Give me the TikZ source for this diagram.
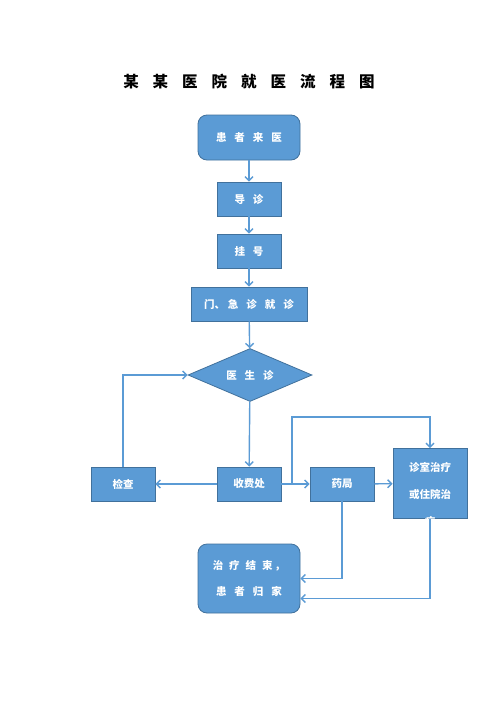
\documentclass[tikz,border=0pt]{standalone}
\usepackage{fontspec}
\setmainfont{Noto Sans CJK SC}
\usetikzlibrary{shapes.geometric,arrows.meta}
\definecolor{boxfill}{HTML}{5B9BD5}
\definecolor{boxline}{HTML}{41719C}
\definecolor{linkc}{HTML}{5B9BD5}
\newcommand\tg{\hspace{8pt}}
\newcommand\ttg{\hspace{14pt}}
\begin{document}
\begin{tikzpicture}[x=1pt,y=-1pt,
 box/.style={draw=boxline, fill=boxfill, line width=0.8pt, text=white, font=\bfseries\fontsize{10.5}{12}\selectfont, inner sep=0pt},
 rbox/.style={box, rounded corners=9pt, align=center},
 link/.style={draw=linkc, line width=1.4pt, -{Straight Barb[length=4pt,width=8pt]}}]
\fill[white] (0,0) rectangle (500,707);
\useasboundingbox (0,0) rectangle (500,707);
\node[font=\bfseries\fontsize{15.5}{18}\selectfont] (t) at (249,82) {某\ttg 某\ttg 医\ttg 院\ttg 就\ttg 医\ttg 流\ttg 程\ttg 图};
\node[rbox, minimum width=102pt, minimum height=45pt] (a) at (249,137.5) {患\tg 者\tg 来\tg 医};
\node[box, minimum width=64pt, minimum height=34pt] (b) at (249,199) {导\tg 诊};
\node[box, minimum width=64pt, minimum height=34pt] (c) at (249,251) {挂\tg 号};
\node[box, minimum width=116pt, minimum height=34pt] (d) at (249,304) {门、\hspace{3pt}急\tg 诊\tg 就\tg 诊};
\node[box, diamond, aspect=2.34, minimum width=124pt, minimum height=53pt] (e) at (250,375) {医\tg 生\tg 诊};
\node[box, minimum width=64pt, minimum height=34pt] (f) at (123,484) {检查};
\node[box, minimum width=64pt, minimum height=34pt] (g) at (249,484) {收费处};
\node[box, minimum width=64pt, minimum height=34pt] (h) at (342,484) {药局};
\node[box, minimum width=74pt, minimum height=70pt] (i) at (430,483.5) {};
\begin{scope}
\clip (i.south west) rectangle (i.north east);
\node[text=white, inner sep=0pt, align=center, font=\bfseries\fontsize{10.5}{27}\selectfont] (itext) at (430,494) {诊室治疗\\或住院治\\疗};
\end{scope}
\node[rbox, minimum width=102pt, minimum height=69pt, font=\bfseries\fontsize{10.5}{26}\selectfont] (j) at (249,578.5) {治\hspace{6pt}疗\hspace{6pt}结\hspace{6pt}束\hspace{2pt}，\\患\tg 者\tg 归\tg 家};
\draw[link] (a) -- (b);
\draw[link] (b) -- (c);
\draw[link] (c) -- (d);
\draw[link] (d) -- (e);
\draw[link] (e) -- (g);
\draw[link] (g) -- (f);
\draw[link] (g) -- (h);
\draw[link] (h) -- (i);
\draw[link] (f.north) |- (e.west);
\coordinate (p1) at (292,484);
\coordinate (p2) at (292,417);
\draw[link] (p1) -- (p2) -| (i.north);
\draw[link] (h.south) |- (j.east);
\draw[link] (i.south) |- ([yshift=-20pt]j.east);
\end{tikzpicture}
\end{document}
